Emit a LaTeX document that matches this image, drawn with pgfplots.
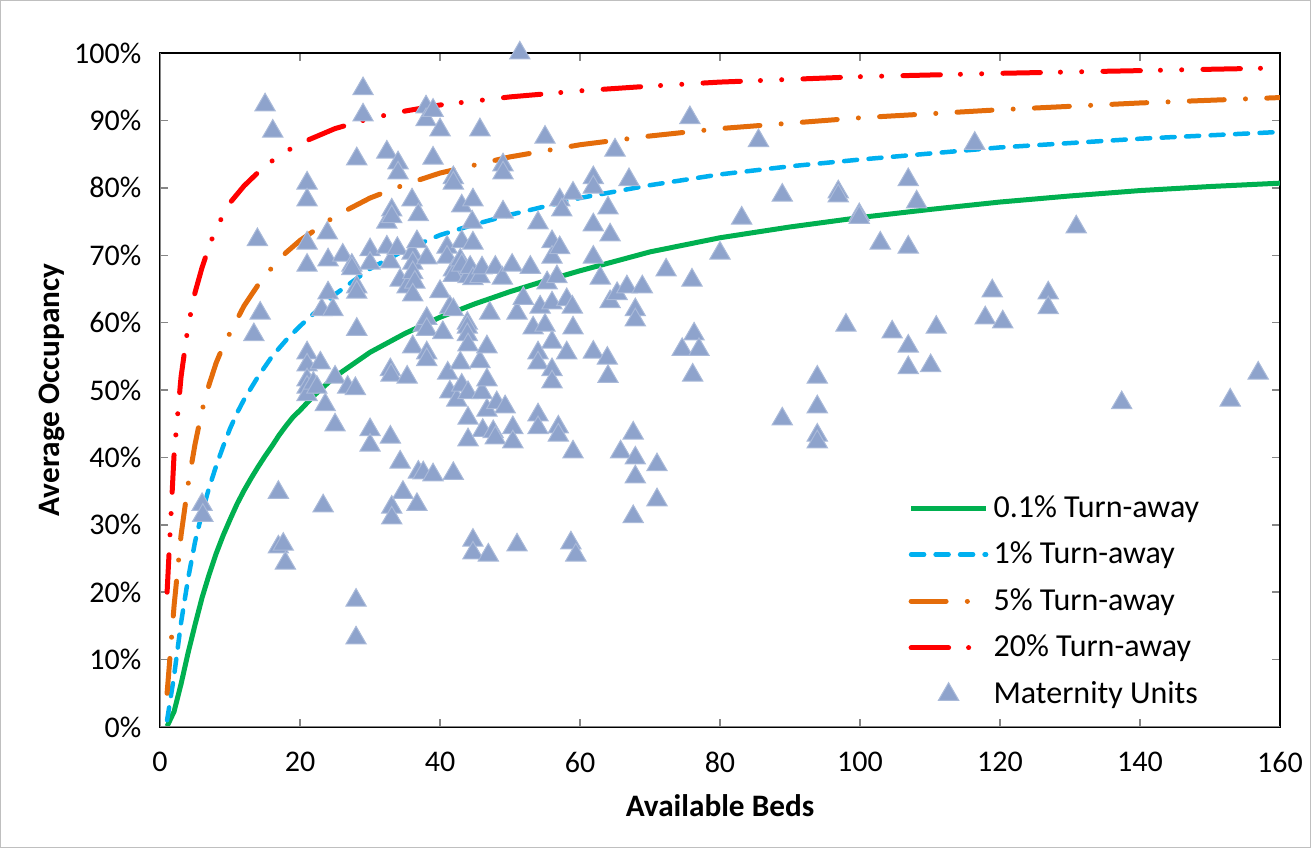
\documentclass[border=0pt]{standalone}
\usepackage{pgfplots}
\pgfplotsset{compat=1.18}
\usepackage{fontspec}
\setmainfont{Carlito}
\definecolor{cgreen}{HTML}{00B050}
\definecolor{cblue}{HTML}{00B0F0}
\definecolor{corange}{HTML}{E46C0A}
\definecolor{cred}{HTML}{FF0000}
\definecolor{cmark}{RGB}{142,163,204}
\definecolor{caxis}{HTML}{868686}
\begin{document}
\begin{tikzpicture}
\begin{axis}[
  scale only axis,
  width=448pt, height=269.6pt,
  xmin=0, xmax=160, ymin=0, ymax=100,
  xtick={0,20,...,160}, ytick={0,10,...,100},
  yticklabel={\pgfmathprintnumber{\tick}\%},
  /pgf/number format/assume math mode=true,
  tick align=inside,
  major tick length=3.2pt,
  tick style={caxis, line width=0.6pt},
  axis line style={black, line width=0.5pt},
  ticklabel style={font=\fontsize{12}{14}\selectfont},
  yticklabel style={xshift=-4pt},
  xticklabel style={yshift=-6.5pt},
  xlabel={\textbf{Available Beds}},
  ylabel={\textbf{Average Occupancy}},
  label style={font=\fontsize{12.5}{14}\selectfont},
  xlabel style={yshift=-2pt},
  ylabel style={yshift=-3pt},
  legend cell align=left,
  legend style={at={(rel axis cs:0.668,0.352)}, anchor=north west, draw=none, fill=none,
    font=\fontsize{12.8}{14}\selectfont, row sep=4.4pt, inner sep=0pt},
  legend image code/.code={\draw[mark repeat=2,mark phase=2,#1] plot coordinates {(0pt,0pt)(15pt,0pt)(30pt,0pt)};},
]
\coordinate (SW) at (rel axis cs:0,0);
\coordinate (NE) at (rel axis cs:1,1);
% 0.1% turn-away
\addplot[cgreen, line width=2pt, line join=round] coordinates {
(1,0.1)(2,2.3)(3,6.4)(4,11)(5,15.2)(6,19.2)(7,22.6)(8,25.7)(9,28.4)(10,30.8)(11,33.1)(12,35.1)(13,36.9)(14,38.6)(15,40.2)(16,41.7)(17,43.3)(18,44.7)(19,46)(20,47)(22,49.2)(25,52)(30,55.6)(35,58.4)(40,60.8)(45,62.8)(50,64.6)(55,66.2)(60,67.7)(70,70.5)(80,72.6)(90,74.2)(100,75.6)(110,76.8)(120,77.9)(130,78.8)(140,79.6)(150,80.2)(160,80.7)};
\addlegendentry{0.1\% Turn-away}
% 1%
\addplot[cblue, line width=1.8pt, line cap=round, dash pattern=on 5.2pt off 4.6pt] coordinates {
(1,1)(2,7.6)(3,15.5)(4,22)(5,27.5)(6,31.8)(7,35.5)(8,38.7)(9,41.6)(10,44.3)(11,46.6)(12,48.6)(14,52)(16,55)(18,57.4)(20,59.5)(25,64.2)(30,68)(35,70.8)(40,73)(45,74.6)(50,76)(60,78.5)(70,80.4)(80,82)(90,83.2)(100,84.2)(120,86)(140,87.3)(160,88.3)};
\addlegendentry{1\% Turn-away}
% 5%
\addplot[corange, line width=2pt, line cap=round, dash pattern=on 14pt off 8.5pt on 0.01pt off 8.5pt] coordinates {
(1,5)(2,18)(3,28.5)(4,36)(5,42)(6,47)(7,50.8)(8,54)(9,56.5)(10,58.5)(12,62.5)(14,65.6)(16,68.2)(18,70.4)(20,72.2)(25,75.8)(30,78.5)(35,80.5)(40,82.2)(50,84.6)(60,86.4)(70,87.7)(80,88.8)(100,90.4)(120,91.6)(140,92.6)(160,93.4)};
\addlegendentry{5\% Turn-away}
% 20%
\addplot[cred, line width=2pt, line cap=round, dash pattern=on 15pt off 8pt on 0.01pt off 8.5pt on 0.01pt off 8.5pt] coordinates {
(1,20)(2,40.5)(3,52)(4,59.5)(5,64.5)(6,68.2)(7,71.3)(8,74)(10,77.8)(12,80.3)(14,82.3)(16,84)(18,85.4)(20,86.6)(25,88.8)(30,90.3)(35,91.4)(40,92.3)(50,93.5)(60,94.4)(70,95.1)(80,95.7)(100,96.5)(120,97)(140,97.4)(160,97.8)};
\addlegendentry{20\% Turn-away}
% maternity units
\addplot[only marks, mark=triangle*, mark size=4.7pt,
  mark options={fill=cmark, draw=cmark!75!white, line width=0.4pt}] table {
x y
6.0 33.0
6.1 31.4
13.4 58.2
13.9 72.3
14.3 61.4
15.0 92.3
16.1 88.4
16.9 34.8
16.9 26.7
17.6 27.1
17.9 24.3
21.0 80.7
21.0 78.2
21.0 71.8
21.0 68.5
21.0 55.5
21.0 53.7
21.0 51.5
21.0 50.4
21.0 49.3
21.9 51.0
22.4 50.4
22.9 54.0
23.1 61.9
23.3 32.8
23.6 47.8
23.9 73.3
24.0 69.3
24.0 64.4
24.7 61.9
25.0 51.9
25.0 44.8
26.1 70.0
26.8 50.4
27.4 68.5
27.4 68.0
28.0 18.8
28.0 13.2
28.1 84.3
28.1 65.3
28.1 64.5
28.1 59.0
27.9 50.2
29.0 94.7
29.0 90.8
30.0 70.8
30.0 68.8
30.0 44.1
30.0 41.8
32.4 85.3
32.4 71.2
32.9 69.0
32.4 74.9
33.1 76.7
33.1 75.7
32.9 53.0
33.0 52.2
32.9 43.0
33.1 32.6
33.1 31.0
33.9 71.0
34.0 83.7
34.0 82.2
34.3 66.3
34.3 39.3
34.7 34.8
35.3 65.3
35.3 51.9
36.0 78.2
36.0 70.3
36.1 68.8
36.1 67.4
36.4 66.0
36.1 64.1
36.1 56.4
36.7 72.0
36.9 76.0
36.9 37.8
36.7 33.0
37.6 37.7
37.6 59.6
38.0 92.0
38.0 90.1
38.1 69.6
38.1 60.6
38.1 59.0
38.1 55.5
38.1 54.5
39.0 91.5
39.0 84.4
39.0 37.4
40.0 88.6
40.0 64.6
40.4 58.5
41.0 71.2
41.0 69.7
41.1 52.5
41.4 62.3
41.4 49.7
41.9 81.5
41.9 80.7
41.9 67.8
41.9 67.0
41.9 61.9
41.9 37.6
42.4 48.5
42.9 69.3
42.9 54.0
43.1 77.3
43.1 72.0
43.1 68.5
43.1 50.7
43.9 59.9
43.9 59.3
43.9 58.2
44.0 56.7
44.0 66.8
44.0 49.6
44.0 45.8
44.0 42.6
44.3 68.2
44.6 74.9
44.7 78.2
44.7 71.8
44.7 66.5
44.7 27.7
44.7 25.8
45.7 88.6
45.7 54.2
45.7 66.8
46.0 68.1
46.0 49.6
46.1 44.0
46.7 56.4
46.7 51.5
46.7 47.0
46.9 25.5
47.1 61.4
47.6 43.8
47.9 68.2
47.9 42.9
48.1 48.1
48.9 66.6
49.0 83.4
49.0 82.2
49.0 76.4
49.3 47.5
50.3 68.5
50.4 44.4
50.4 42.3
51.0 61.4
51.0 27.0
51.4 100.0
51.9 63.6
52.9 68.2
53.3 59.2
54.0 74.8
54.0 55.5
54.0 54.0
54.0 46.3
54.0 44.4
54.3 62.3
55.0 87.5
55.0 59.6
55.3 65.9
56.0 72.0
56.0 69.7
56.0 62.9
56.0 57.1
56.0 53.0
56.0 51.2
56.7 66.8
56.9 44.5
56.9 43.3
57.1 78.2
57.1 71.1
57.4 76.7
58.1 63.4
58.1 55.5
58.7 27.3
58.9 62.3
59.0 79.2
59.0 59.2
59.0 40.8
59.4 25.5
61.9 81.5
61.9 80.1
61.9 74.5
61.9 69.7
61.9 55.6
62.9 66.6
63.9 54.7
64.0 77.0
64.0 52.0
64.3 73.0
64.3 63.1
65.0 85.6
65.3 64.3
65.8 40.8
66.7 65.3
67.0 81.2
67.6 43.6
67.6 31.2
67.9 39.9
67.9 37.1
67.9 61.9
67.9 60.4
68.9 65.3
71.0 33.7
71.0 38.9
72.3 67.8
74.6 56.0
75.7 90.4
76.0 66.3
76.3 58.3
77.0 56.0
76.1 52.2
80.0 70.3
83.1 75.5
85.5 87.0
88.9 78.9
88.9 45.7
93.9 51.9
93.9 47.5
93.9 43.3
93.9 42.3
96.9 79.4
96.9 78.8
98.0 59.6
99.9 76.0
99.9 75.6
102.9 71.8
104.6 58.6
106.9 81.2
106.9 71.2
106.9 56.5
106.9 53.3
108.1 77.9
110.1 53.6
110.9 59.3
116.4 86.6
117.9 60.7
118.9 64.7
120.4 60.1
126.9 64.4
126.9 62.2
130.9 74.2
137.4 48.1
152.9 48.5
156.9 52.5
};
\addlegendentry{Maternity Units}
\draw[caxis, line width=1pt] (rel axis cs:0,0) -- (rel axis cs:0,1);
\draw[caxis, line width=1pt] (rel axis cs:0,0) -- (rel axis cs:1,0);
\end{axis}
\draw[gray!50, line width=0.5pt] ([shift={(-63.8pt,-48.2pt)}]SW) rectangle ([shift={(12.2pt,21pt)}]NE);
\end{tikzpicture}
\end{document}
